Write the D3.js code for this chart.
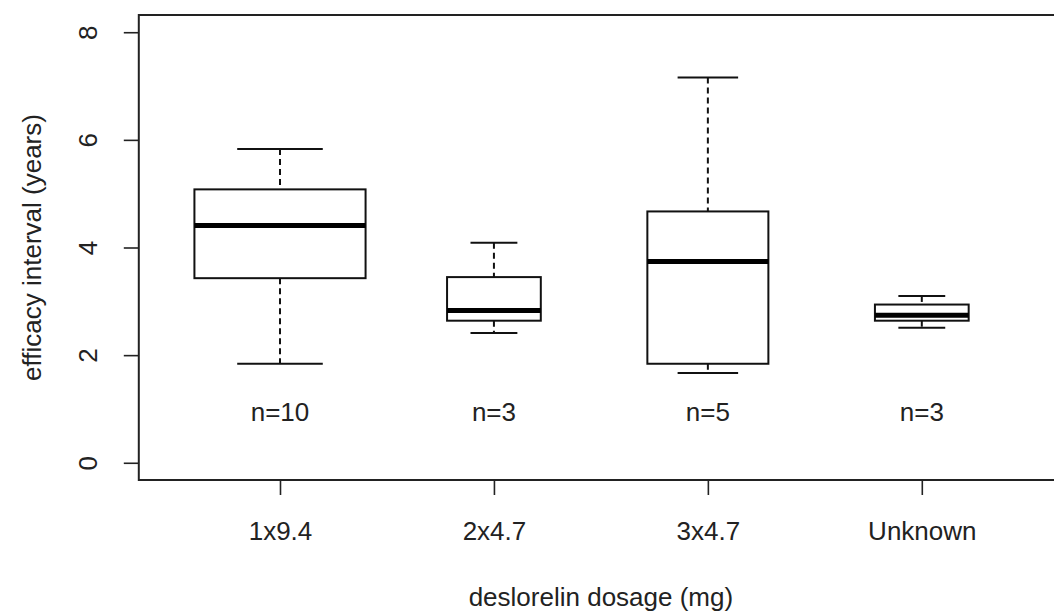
<!DOCTYPE html>
<html>
<head>
    <meta charset="utf-8">
    <title>Efficacy interval by deslorelin dosage</title>
    <script src="https://cdn.jsdelivr.net/npm/d3@7"></script>
    <style>
        html, body {
            margin: 0;
            padding: 0;
            background: white;
        }
        svg {
            display: block;
            font-family: "Liberation Sans", Arial, sans-serif;
        }
        .axis text, .lab {
            font-size: 26px;
            fill: #222;
        }
    </style>
</head>
<body>
<div id="chart"></div>
<script>
    // data (years)
    var groups = ["1x9.4", "2x4.7", "3x4.7", "Unknown"];
    var counts = [10, 3, 5, 3];
    var whiskLo = [1.84, 2.41, 1.67, 2.51];
    var q1      = [3.43, 2.64, 1.84, 2.64];
    var median  = [4.41, 2.83, 3.74, 2.74];
    var q3      = [5.08, 3.45, 4.67, 2.94];
    var whiskHi = [5.83, 4.09, 7.16, 3.10];
    var yTicks = [0, 2, 4, 6, 8];

    var W = 1054, H = 613;

    var svg = d3.select("#chart").append("svg")
        .attr("width", W)
        .attr("height", H);

    // R style: xlim 0.5..4.5 and ylim 0..8, both expanded by 4%
    var x = d3.scaleLinear().domain([0.34, 4.66]).range([138.8, 1063]);
    var y = d3.scaleLinear().domain([-0.32, 8.32]).range([480, 15]);

    var unit = x(2) - x(1),
        maxN = d3.max(counts);

    var data = groups.map(function(g, i) {
        return {
            name: g, pos: i + 1, n: counts[i],
            lo: whiskLo[i], q1: q1[i], med: median[i], q3: q3[i], hi: whiskHi[i],
            // varwidth = TRUE -> width proportional to sqrt(n)
            w: 0.8 * unit * Math.sqrt(counts[i] / maxN)
        };
    });

    var box = svg.selectAll("g.box")
        .data(data)
        .enter().append("g")
        .attr("class", "box");

    // dashed whiskers
    box.append("line")
        .attr("x1", function(d) { return x(d.pos); })
        .attr("x2", function(d) { return x(d.pos); })
        .attr("y1", function(d) { return y(d.hi); })
        .attr("y2", function(d) { return y(d.q3); })
        .attr("stroke", "#111").attr("stroke-width", 2)
        .attr("stroke-dasharray", "6,4");
    box.append("line")
        .attr("x1", function(d) { return x(d.pos); })
        .attr("x2", function(d) { return x(d.pos); })
        .attr("y1", function(d) { return y(d.q1); })
        .attr("y2", function(d) { return y(d.lo); })
        .attr("stroke", "#111").attr("stroke-width", 2)
        .attr("stroke-dasharray", "6,4");

    // staples, half the box width
    ["hi", "lo"].forEach(function(k) {
        box.append("line")
            .attr("x1", function(d) { return x(d.pos) - d.w / 4; })
            .attr("x2", function(d) { return x(d.pos) + d.w / 4; })
            .attr("y1", function(d) { return y(d[k]); })
            .attr("y2", function(d) { return y(d[k]); })
            .attr("stroke", "#111").attr("stroke-width", 2);
    });

    box.append("rect")
        .attr("x", function(d) { return x(d.pos) - d.w / 2; })
        .attr("width", function(d) { return d.w; })
        .attr("y", function(d) { return y(d.q3); })
        .attr("height", function(d) { return y(d.q1) - y(d.q3); })
        .attr("fill", "white")
        .attr("stroke", "#111").attr("stroke-width", 2);

    box.append("line")
        .attr("x1", function(d) { return x(d.pos) - d.w / 2; })
        .attr("x2", function(d) { return x(d.pos) + d.w / 2; })
        .attr("y1", function(d) { return y(d.med); })
        .attr("y2", function(d) { return y(d.med); })
        .attr("stroke", "#000").attr("stroke-width", 5);

    // sample sizes written under each box
    box.append("text")
        .attr("class", "lab")
        .attr("x", function(d) { return x(d.pos); })
        .attr("y", y(0.95))
        .attr("dy", "0.35em")
        .attr("text-anchor", "middle")
        .text(function(d) { return "n=" + d.n; });

    // plot frame (right side runs off the picture)
    svg.append("rect")
        .attr("x", x.range()[0]).attr("y", y.range()[1])
        .attr("width", x.range()[1] - x.range()[0])
        .attr("height", y.range()[0] - y.range()[1])
        .attr("fill", "none")
        .attr("stroke", "#222").attr("stroke-width", 2);

    // axes
    var xAxis = d3.axisBottom(x)
        .tickValues([1, 2, 3, 4])
        .tickFormat(function(d) { return groups[d - 1]; })
        .tickSize(15).tickPadding(27);
    var gx = svg.append("g")
        .attr("class", "axis")
        .attr("transform", "translate(0," + y.range()[0] + ")")
        .call(xAxis);
    gx.select(".domain").remove();
    gx.selectAll("line").attr("stroke", "#222").attr("stroke-width", 1.6);

    var yAxis = d3.axisLeft(y).tickValues(yTicks).tickSize(15);
    var gy = svg.append("g")
        .attr("class", "axis")
        .attr("transform", "translate(" + x.range()[0] + ",0)")
        .call(yAxis);
    gy.select(".domain").remove();
    gy.selectAll("line").attr("stroke", "#222").attr("stroke-width", 1.6);
    // R draws y tick labels parallel to the axis
    gy.selectAll("text")
        .attr("x", 0).attr("y", 0).attr("dy", null)
        .attr("text-anchor", "middle")
        .attr("transform", "translate(-42,0) rotate(-90)");

    // axis titles
    svg.append("text")
        .attr("class", "lab")
        .attr("x", (x.range()[0] + x.range()[1]) / 2)
        .attr("y", 606)
        .attr("text-anchor", "middle")
        .text("deslorelin dosage (mg)");

    svg.append("text")
        .attr("class", "lab")
        .attr("text-anchor", "middle")
        .attr("transform", "translate(41," + (y.range()[0] + y.range()[1]) / 2 + ") rotate(-90)")
        .text("efficacy interval (years)");
</script>
</body>
</html>
